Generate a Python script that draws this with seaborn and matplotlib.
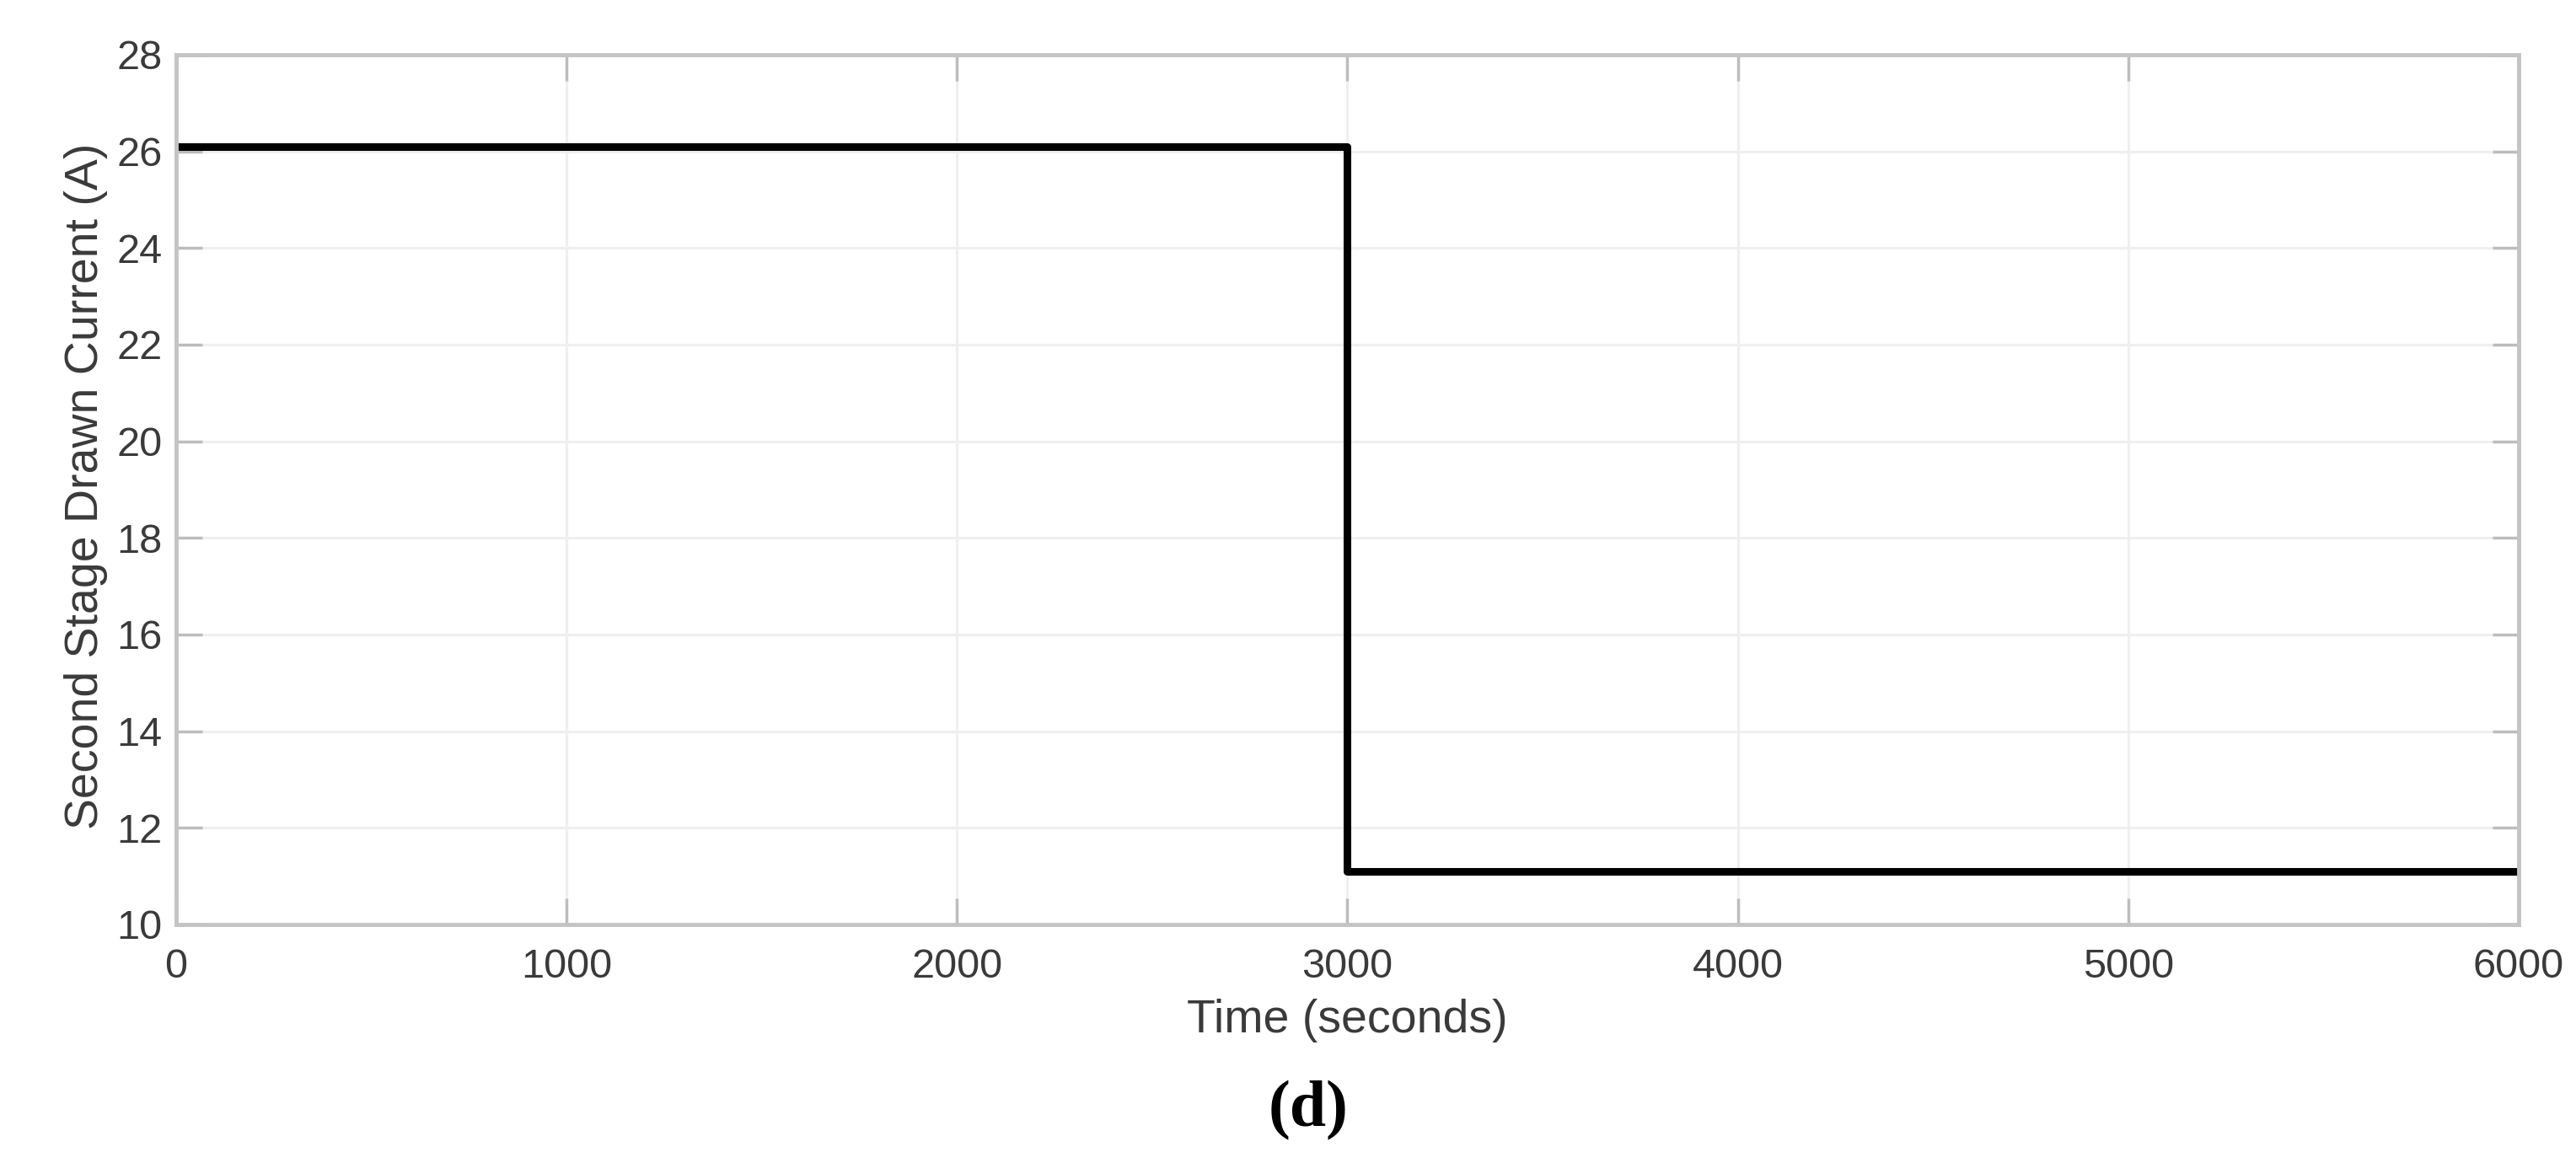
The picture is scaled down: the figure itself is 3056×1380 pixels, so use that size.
import matplotlib
matplotlib.use("Agg")
import matplotlib.pyplot as plt
import seaborn as sns
import pandas as pd

# Data
time_s = [0, 3000, 6000]
current_a = [26.1, 11.1, 11.1]
x_ticks = [0, 1000, 2000, 3000, 4000, 5000, 6000]
y_ticks = [10, 12, 14, 16, 18, 20, 22, 24, 26, 28]
x_label = "Time (seconds)"
y_label = "Second Stage Drawn Current (A)"
caption = "(d)"

sns.set_theme(style="white")
plt.rcParams['font.family'] = ['Liberation Sans', 'DejaVu Sans']

df = pd.DataFrame({"t": time_s, "i": current_a})

fig = plt.figure(figsize=(30.56, 13.8), dpi=100)
ax = fig.add_axes([0.0684, 0.2051, 0.9777 - 0.0684, 0.9529 - 0.2051])

sns.lineplot(data=df, x="t", y="i", ax=ax, color="black", linewidth=6.5,
             drawstyle="steps-post", estimator=None, sort=False, legend=False)

ax.set_xlim(0, 6000)
ax.set_ylim(10, 28)
ax.set_xticks(x_ticks)
ax.set_yticks(y_ticks)
ax.grid(True, color="#efefef", linewidth=2.2)
ax.set_axisbelow(True)

for s in ax.spines.values():
    s.set_visible(True)
    s.set_color("#c4c4c4")
    s.set_linewidth(3.5)

ax.tick_params(axis="both", direction="in", length=22, width=2.5, color="#bdbdbd",
               labelsize=35, labelcolor="#3a3a3a", top=True, right=True,
               bottom=True, left=True)
ax.tick_params(axis="x", pad=20)
ax.tick_params(axis="y", pad=12)

ax.set_xlabel(x_label, fontsize=40, color="#3a3a3a")
ax.set_ylabel(y_label, fontsize=40, color="#3a3a3a")
ax.xaxis.set_label_coords(0.5, -0.085)
ax.yaxis.set_label_coords(-0.029, 0.504)

fig.text(0.508, 0.045, caption, ha="center", va="center", fontsize=56,
         fontweight="bold", family=["Liberation Serif", "DejaVu Serif"], color="black")

fig.savefig("out.png", dpi=100, facecolor="white")
